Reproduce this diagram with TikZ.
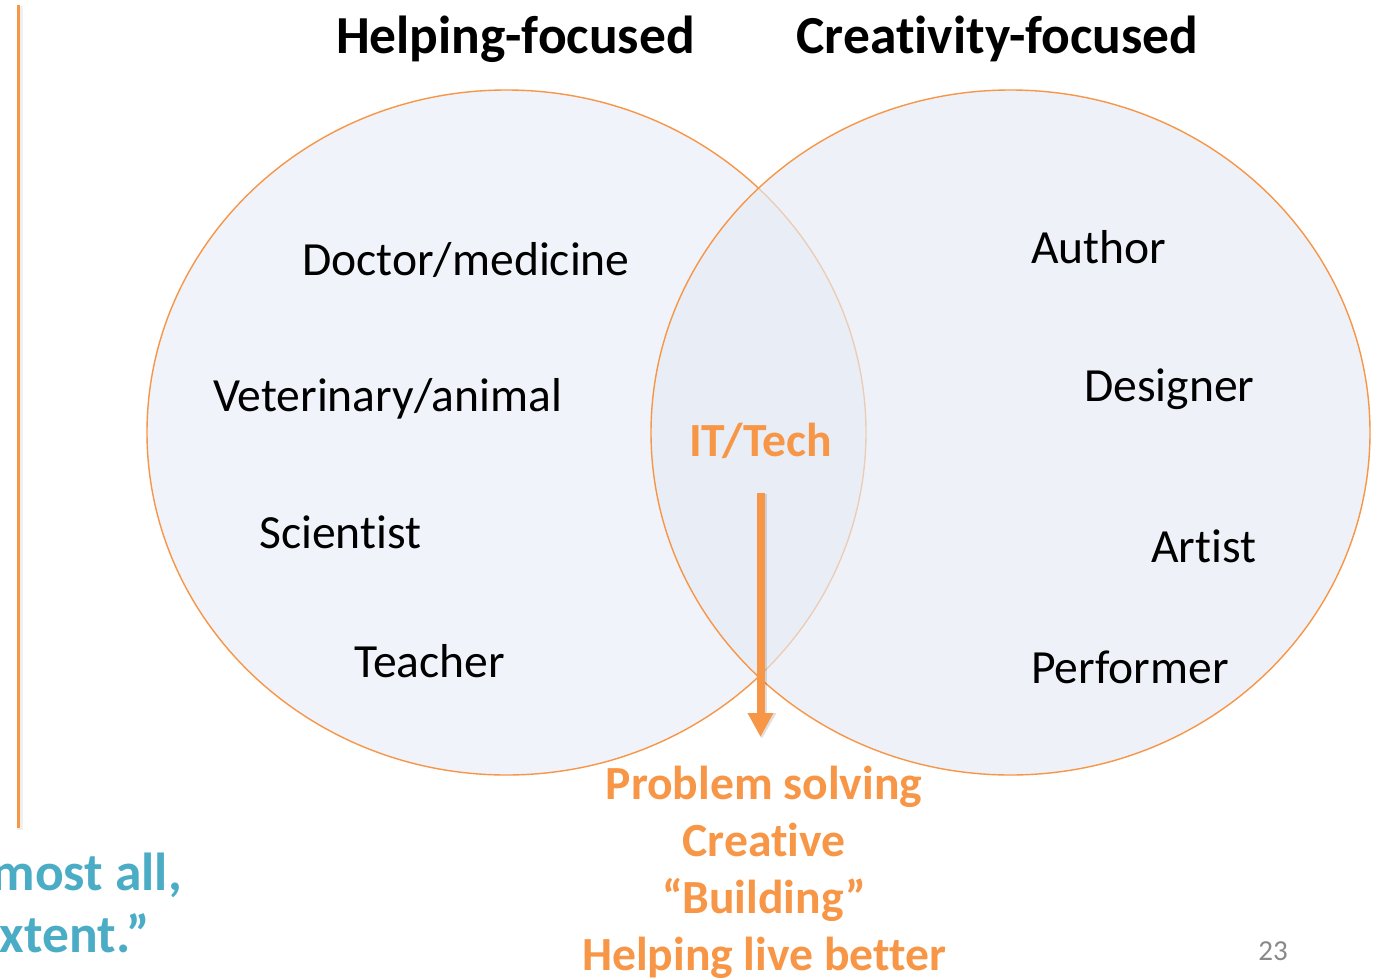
\documentclass[tikz,border=0pt]{standalone}
\usepackage{fontspec}
\setmainfont{Carlito}[Ligatures={NoCommon}]
\usetikzlibrary{arrows.meta}
\definecolor{orng}{RGB}{247,150,70}
\definecolor{vfill}{RGB}{230,236,245}
\definecolor{tealtx}{RGB}{75,172,198}
\definecolor{pgnum}{RGB}{137,137,137}
\begin{document}
\begin{tikzpicture}[x=1pt,y=-1pt,
  setfill/.style={fill=vfill, fill opacity=0.6},
  setline/.style={draw=orng, line width=1.4pt},
  item/.style={anchor=base west, inner sep=0pt, font=\fontsize{47.6}{56}\selectfont},
  head/.style={anchor=base, inner sep=0pt, font=\fontsize{53.5}{60}\selectfont\bfseries},
  hilite/.style={inner sep=0pt, text=orng, font=\fontsize{47.6}{57}\selectfont\bfseries},
  sidetext/.style={anchor=base east, inner sep=0pt, text=tealtx, font=\fontsize{53.5}{60}\selectfont\bfseries},
  bigarrow/.style={draw=orng, line width=8pt, -{Triangle[width=24pt,length=24pt]}},
  arrowshadow/.style={draw=black, opacity=0.12, line width=10pt, -{Triangle[width=27pt,length=26pt]}}
]
\useasboundingbox (0,0) rectangle (1378,977);
\clip (0,0) rectangle (1378,977);
\fill[white] (0,0) rectangle (1378,977);

% vertical rule at left
\draw[draw=black, opacity=0.06, line width=6pt] (20,6) -- (20,830);
\draw[draw=orng, line width=2.5pt] (18.5,5) -- (18.5,828);

% circles
\fill[setfill] (506.5,432.5) ellipse [x radius=359.5pt, y radius=342.5pt];
\draw[setline] (506.5,432.5) ellipse [x radius=359.5pt, y radius=342.5pt];
\fill[setfill, fill opacity=0.65] (1010.5,432.5) ellipse [x radius=359.5pt, y radius=342.5pt];
\draw[setline] (1010.5,432.5) ellipse [x radius=359.5pt, y radius=342.5pt];

% headings
\node[head] (hhelp) at (515.5,53) {Helping-focused};
\node[head] (hcreat) at (997.5,53) {Creativity-focused};

% left set
\node[item] (doc) at (302,275) {Doctor/medicine};
\node[item] (vet) at (213,411) {Veterinary/animal};
\node[item] (sci) at (259,548) {Scientist};
\node[item] (tea) at (354,677) {Teacher};

% right set
\node[item] (aut) at (1031,263) {Author};
\node[item] (des) at (1084,401) {Designer};
\node[item] (art) at (1151,562) {Artist};
\node[item] (per) at (1031,683) {Performer};

% intersection
\node[hilite, anchor=base] (it) at (760.5,456) {IT/Tech};
\node[hilite, anchor=north, align=center] (prob) at (764,766) {Problem solving\\Creative\\“Building”\\Helping live better};

% arrow
\draw[arrowshadow, shorten <=36pt, shorten >=27pt, transform canvas={xshift=1.5pt}] (it.south) -- (it.south |- prob.north);
\draw[bigarrow, shorten <=35pt, shorten >=29pt] (it.south) -- (it.south |- prob.north);

% cropped side text
\node[sidetext] (side1) at (182,890) {most all,};
\node[sidetext] (side2) at (150,952) {xtent.”};

% page number
\node[anchor=base east, inner sep=0pt, text=pgnum, font=\fontsize{29}{30}\selectfont] (pg) at (1288,960) {23};
\end{tikzpicture}
\end{document}
